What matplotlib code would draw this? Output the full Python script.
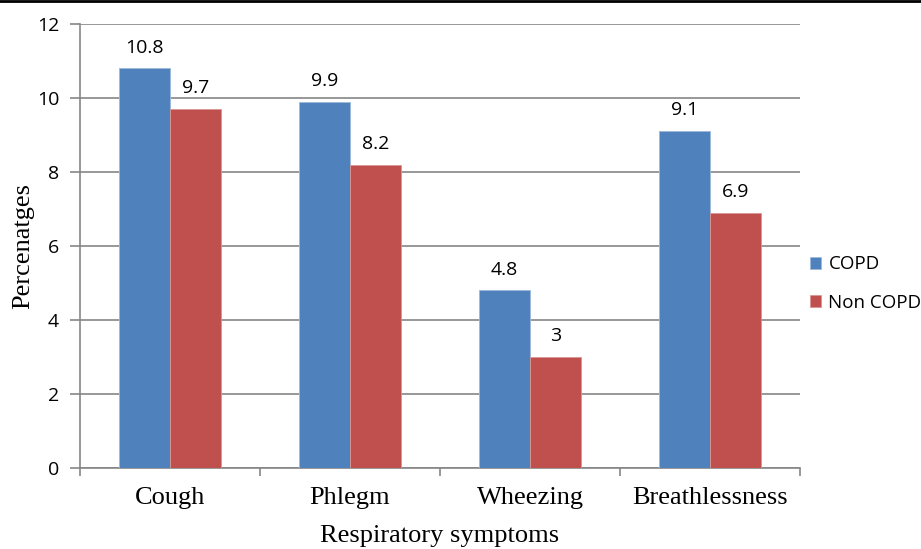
import matplotlib.pyplot as plt
import numpy as np
from matplotlib.lines import Line2D

categories = ["Cough", "Phlegm", "Wheezing", "Breathlessness"]
copd = [10.8, 9.9, 4.8, 9.1]
non_copd = [9.7, 8.2, 3, 6.9]
yticks = [0, 2, 4, 6, 8, 10, 12]

blue = "#4F81BD"
red = "#C0504D"
grey = "#868686"

fig = plt.figure(figsize=(9.21, 5.49), dpi=100)
ax = fig.add_axes([80 / 921, 81 / 549, 720 / 921, 444 / 549])

x = np.arange(len(categories))
w = 0.285
ax.bar(x - w / 2, copd, w, color=blue, edgecolor="#9DB8DA", linewidth=0.6, label="COPD", zorder=3)
ax.bar(x + w / 2, non_copd, w, color=red, edgecolor="#D99694", linewidth=0.6, label="Non COPD", zorder=3)

# value labels above each bar
for xi, v in zip(x - w / 2, copd):
    ax.annotate(f"{v:g}", (xi, v), xytext=(0, 15), textcoords="offset points",
                ha="center", va="center", fontsize=14, family="Open Sans")
for xi, v in zip(x + w / 2, non_copd):
    ax.annotate(f"{v:g}", (xi, v), xytext=(0, 15), textcoords="offset points",
                ha="center", va="center", fontsize=14, family="Open Sans")

ax.set_xlim(-0.5, len(categories) - 0.5)
ax.set_ylim(0, 12)
ax.set_yticks(yticks)
ax.set_yticklabels([str(t) for t in yticks], fontsize=14, family="Open Sans")
ax.yaxis.grid(True, color=grey, linewidth=1.2, zorder=0)
ax.set_axisbelow(True)

# category labels centred, tick marks between categories
ax.set_xticks(np.arange(-0.5, len(categories), 1.0))
ax.set_xticklabels([])
ax.set_xticks(x, minor=True)
ax.set_xticklabels(categories, minor=True, fontsize=19, family="Liberation Serif")
ax.tick_params(axis="x", which="minor", length=0, pad=14)
ax.tick_params(axis="x", which="major", length=6, color=grey, width=1.2)
ax.tick_params(axis="y", length=7, color=grey, width=1.2, pad=8)

for s in ["top", "right"]:
    ax.spines[s].set_visible(False)
for s in ["left", "bottom"]:
    ax.spines[s].set_color(grey)
    ax.spines[s].set_linewidth(1.2)

ax.set_ylabel("Percenatges", fontsize=19, family="Liberation Serif", labelpad=2)
ax.set_xlabel("Respiratory symptoms", fontsize=19, family="Liberation Serif", labelpad=11)

ax.legend(loc="center left", bbox_to_anchor=(0.99, 0.415), frameon=False,
          prop={"family": "Open Sans", "size": 13.5}, handlelength=0.6, handleheight=0.6,
          handletextpad=0.4, labelspacing=1.1)

fig.add_artist(Line2D([0, 1], [0.998, 0.998], color="black", linewidth=2, transform=fig.transFigure))

fig.savefig("out.png", dpi=100)
